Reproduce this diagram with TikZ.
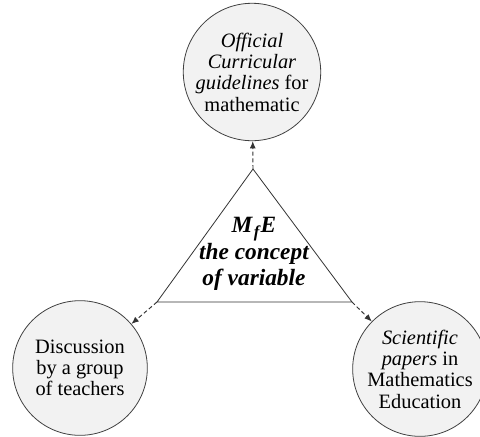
\documentclass[tikz,border=0pt]{standalone}
\usepackage{fontspec}
\setmainfont{Liberation Serif}
\usetikzlibrary{arrows.meta}
\definecolor{circfill}{HTML}{F2F2F2}
\definecolor{edge}{HTML}{404040}
\tikzset{
  topic/.style={circle, draw=edge, line width=0.6pt, fill=circfill, minimum size=101pt, inner sep=0pt, align=center, font=\fontsize{15.3}{16}\selectfont},
  link/.style={draw=black!80, line width=0.7pt, dash pattern=on 3pt off 2pt, -{Latex[length=5.5pt,width=4.5pt]}},
  tri/.style={draw=black!80, line width=0.6pt},
  centertext/.style={align=center, font=\fontsize{17.5}{20}\selectfont\bfseries\itshape}
}
\begin{document}
\begin{tikzpicture}[x=0.75pt,y=-0.75pt]
\clip (0,0) rectangle (480,437);
\fill[white] (0,0) rectangle (480,437);
\node[topic] (top) at (252,72) {\textit{Official}\\\textit{Curricular}\\\textit{guidelines} for\\mathematic};
\node[topic] (left) at (80,368) {Discussion\\by a group\\of teachers};
\node[topic] (right) at (420,369) {\textit{Scientific}\\\textit{papers} in\\Mathematics\\Education};
\coordinate (apex) at (253,169);
\coordinate (bl) at (157,302);
\coordinate (br) at (352,302);
\draw[tri] (apex) -- (br) -- (bl) -- cycle;
\node[centertext] (mid) at (254,254) {M\raisebox{-0.5ex}{\fontsize{12.5}{12.5}\selectfont\kern1pt f}\kern1pt E\\the concept\\of variable};
\draw[link] (apex) -- (top);
\draw[link] (bl) -- (left);
\draw[link] (br) -- (right);
\end{tikzpicture}
\end{document}
